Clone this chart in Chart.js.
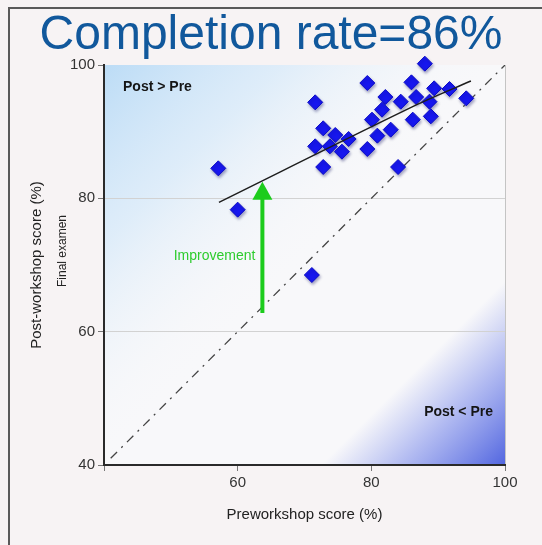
<!DOCTYPE html>
<html>
<head>
<meta charset="utf-8">
<script src="https://cdn.jsdelivr.net/npm/chart.js@4.4.1/dist/chart.umd.min.js"></script>
<style>
  html, body { margin: 0; padding: 0; background: #f7f3f4; }
  #frame { position: absolute; left: 8px; top: 7px; width: 600px; height: 600px;
           border-left: 2px solid #5a5a5a; border-top: 2px solid #5a5a5a; }
  #wrap { position: absolute; left: 0; top: 0; width: 542px; height: 545px; }
</style>
</head>
<body>
<div id="frame"></div>
<div id="wrap"><canvas id="chart" width="542" height="545"></canvas></div>
<script>
// pre / post workshop scores
const preScores  = [88.0, 79.4, 86.0, 71.6, 82.1, 84.4, 86.7, 89.4, 91.7, 94.2,
                    88.7, 81.6, 80.1, 86.2, 88.9, 72.8, 74.6, 76.6, 80.9, 82.9,
                    71.6, 73.8, 75.6, 79.4, 72.8, 84.0, 57.1, 60.0, 71.1];
const postScores = [100.2, 97.3, 97.4, 94.4, 95.2, 94.5, 95.2, 96.5, 96.4, 95.0,
                    94.5, 93.3, 91.8, 91.8, 92.3, 90.5, 89.5, 88.9, 89.4, 90.3,
                    87.8, 87.8, 87.0, 87.4, 84.7, 84.7, 84.5, 78.3, 68.5];

const trendX = [57.2, 86.5, 94.9];
const trendY = [79.4, 93.9, 97.6];
const identityX = [41, 100];

const arrowAt = 63.7;        // pre score where the arrow stands
const arrowFrom = 62.8;      // on the identity line
const arrowTo = 82.5;        // on the trend line

const xTicks = [40, 60, 80, 100];
const yTicks = [40, 60, 80, 100];

const titleText = 'Completion rate=86%';
const xTitle = 'Preworkshop score (%)';
const yTitle = 'Post-workshop score (%)';
const ySubTitle = 'Final examen';

const scatterData = preScores.map((x, i) => ({ x: x, y: postScores[i] }));
const trendData = trendX.map((x, i) => ({ x: x, y: trendY[i] }));
const identityData = identityX.map(v => ({ x: v, y: v }));

const FONT = '"Liberation Sans", Arial, sans-serif';

const backgroundPlugin = {
    id: 'plotBackground',
    beforeDraw(chart) {
        const { ctx, chartArea: a } = chart;
        ctx.save();
        ctx.fillStyle = '#f8f8fa';
        ctx.fillRect(a.left, a.top, a.width, a.height);

        // light blue in the upper left corner
        let g = ctx.createLinearGradient(a.left, a.top, a.left + 200, a.top + 200);
        g.addColorStop(0, 'rgba(188, 220, 246, 1)');
        g.addColorStop(0.45, 'rgba(212, 232, 249, 0.7)');
        g.addColorStop(1, 'rgba(248, 248, 250, 0)');
        ctx.fillStyle = g;
        ctx.fillRect(a.left, a.top, a.width, a.height);

        // darker blue in the lower right corner
        g = ctx.createLinearGradient(a.right - 92, a.bottom - 92, a.right, a.bottom);
        g.addColorStop(0, 'rgba(170, 180, 240, 0)');
        g.addColorStop(0.45, 'rgba(168, 178, 240, 0.9)');
        g.addColorStop(1, 'rgba(82, 102, 224, 1)');
        ctx.fillStyle = g;
        ctx.fillRect(a.left, a.top, a.width, a.height);

        ctx.strokeStyle = '#c4c4c4';
        ctx.lineWidth = 1;
        ctx.beginPath();
        ctx.moveTo(a.right + 0.5, a.top);
        ctx.lineTo(a.right + 0.5, a.bottom);
        ctx.stroke();
        ctx.restore();
    }
};

const shadowPlugin = {
    id: 'pointShadow',
    beforeDatasetDraw(chart, args) {
        if (args.index !== 1) return;
        const ctx = chart.ctx;
        ctx.save();
        ctx.shadowColor = 'rgba(0, 0, 90, 0.35)';
        ctx.shadowBlur = 3;
        ctx.shadowOffsetX = 1;
        ctx.shadowOffsetY = 2;
    },
    afterDatasetDraw(chart, args) {
        if (args.index !== 1) return;
        chart.ctx.restore();
    }
};

const notesPlugin = {
    id: 'notes',
    afterDatasetsDraw(chart) {
        const { ctx, scales: { x, y }, chartArea: a } = chart;
        ctx.save();

        // improvement arrow
        const ax = x.getPixelForValue(arrowAt);
        const y0 = y.getPixelForValue(arrowFrom);
        const y1 = y.getPixelForValue(arrowTo);
        ctx.strokeStyle = '#1ccc1c';
        ctx.fillStyle = '#1ccc1c';
        ctx.lineWidth = 4;
        ctx.beginPath();
        ctx.moveTo(ax, y0);
        ctx.lineTo(ax, y1 + 16);
        ctx.stroke();
        ctx.beginPath();
        ctx.moveTo(ax, y1);
        ctx.lineTo(ax - 10, y1 + 18);
        ctx.lineTo(ax + 10, y1 + 18);
        ctx.closePath();
        ctx.fill();

        ctx.font = '14px ' + FONT;
        ctx.textAlign = 'right';
        ctx.textBaseline = 'middle';
        ctx.fillStyle = '#2ecc2e';
        ctx.fillText('Improvement', ax - 7, y.getPixelForValue(71.3));

        ctx.font = 'bold 14px ' + FONT;
        ctx.fillStyle = '#151515';
        ctx.textAlign = 'left';
        ctx.fillText('Post > Pre', a.left + 19, a.top + 22);
        ctx.textAlign = 'right';
        ctx.fillText('Post < Pre', a.right - 12, y.getPixelForValue(47.9));

        // second line of the y axis title, in a smaller type
        ctx.translate(63, (a.top + a.bottom) / 2 - 14);
        ctx.rotate(-Math.PI / 2);
        ctx.textAlign = 'center';
        ctx.font = '12px ' + FONT;
        ctx.fillStyle = '#222';
        ctx.fillText(ySubTitle, 0, 0);
        ctx.restore();
    }
};

new Chart(document.getElementById('chart'), {
    type: 'scatter',
    data: {
        datasets: [
            {
                label: 'Trend',
                type: 'line',
                data: trendData,
                borderColor: '#1e1e1e',
                borderWidth: 1.5,
                pointRadius: 0,
                tension: 0.3,
                fill: false
            },
            {
                label: 'Scores',
                data: scatterData,
                pointStyle: 'rectRot',
                pointRadius: 7.5,
                pointHoverRadius: 7.5,
                backgroundColor: '#1717ee',
                borderColor: '#0c0cc8',
                borderWidth: 1,
                clip: false
            },
            {
                label: 'Post = Pre',
                type: 'line',
                data: identityData,
                borderColor: '#444',
                borderWidth: 1.3,
                borderDash: [9, 6, 2, 6],
                pointRadius: 0,
                fill: false
            }
        ]
    },
    options: {
        responsive: false,
        animation: false,
        events: [],
        layout: { padding: 0 },
        plugins: {
            legend: { display: false },
            tooltip: { enabled: false },
            title: {
                display: true,
                text: titleText,
                color: '#11589c',
                font: { family: FONT, size: 48, weight: 'normal', lineHeight: 1.2 },
                padding: { top: 7.4, bottom: 0 }
            }
        },
        scales: {
            x: {
                type: 'linear',
                min: 40,
                max: 100,
                afterBuildTicks: s => { s.ticks = xTicks.map(v => ({ value: v })); },
                afterFit: s => { s.height = 80; },
                ticks: {
                    color: '#333',
                    font: { family: FONT, size: 15 },
                    padding: 3,
                    callback: v => (v === 40 ? '' : v)
                },
                grid: { drawOnChartArea: false, tickColor: '#777', tickLength: 6 },
                border: { color: '#2a2a2a', width: 2 },
                title: {
                    display: true,
                    text: xTitle,
                    color: '#222',
                    font: { family: FONT, size: 15 },
                    padding: { top: 4, bottom: 21 }
                }
            },
            y: {
                type: 'linear',
                min: 40,
                max: 100,
                afterBuildTicks: s => { s.ticks = yTicks.map(v => ({ value: v })); },
                afterFit: s => { s.width = 104; },
                ticks: {
                    color: '#333',
                    font: { family: FONT, size: 15 },
                    padding: 3
                },
                grid: {
                    color: c => (c.tick && (c.tick.value === 60 || c.tick.value === 80)) ? '#d2d2d2' : 'rgba(0,0,0,0)',
                    tickColor: '#777',
                    tickLength: 6
                },
                border: { color: '#2a2a2a', width: 2 },
                title: {
                    display: true,
                    text: yTitle,
                    color: '#222',
                    font: { family: FONT, size: 15 },
                    padding: { top: 28, bottom: 0 }
                }
            },
            // empty right-hand axis that only keeps the plot clear of the right edge
            yRight: {
                type: 'linear',
                position: 'right',
                min: 40,
                max: 100,
                afterFit: s => { s.width = 37; },
                ticks: { display: false },
                grid: { display: false },
                border: { display: false }
            }
        }
    },
    plugins: [backgroundPlugin, shadowPlugin, notesPlugin]
});
</script>
</body>
</html>
